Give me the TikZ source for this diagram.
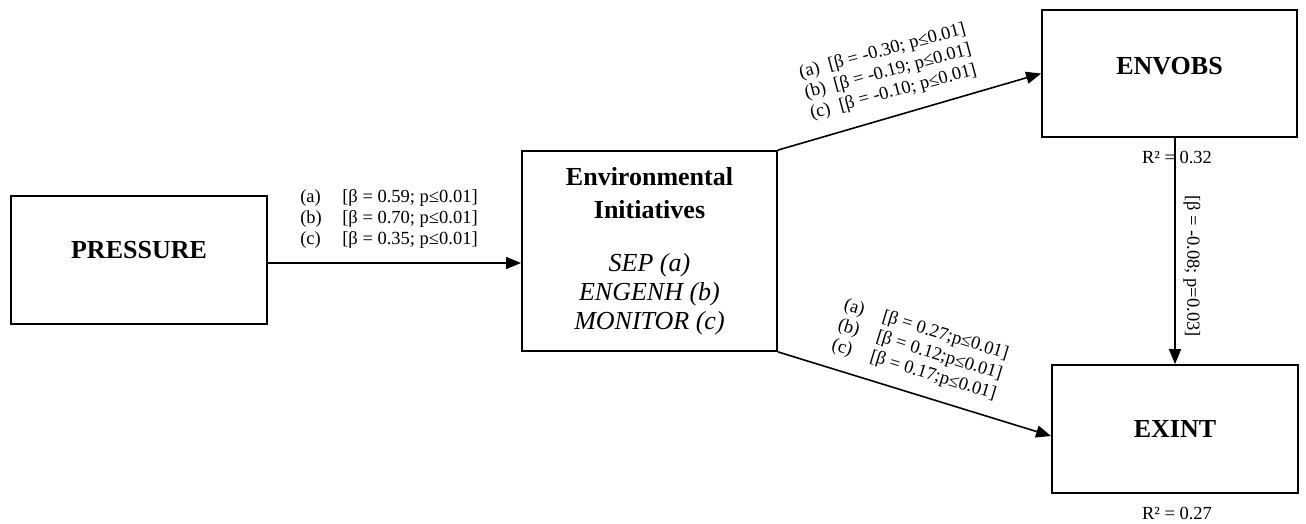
\documentclass[tikz,border=0pt]{standalone}
\usepackage{fontspec}
\setmainfont{Liberation Serif}
\usetikzlibrary{arrows.meta}

\begin{document}
\begin{tikzpicture}[x=1pt, y=-1pt,
	box/.style={draw, line width=1.8pt, inner sep=0pt, font=\fontsize{26}{30}\selectfont\bfseries},
	path/.style={line width=1.6pt, -{Triangle[length=15pt, width=12pt]}},
	coef/.style={inner sep=0pt, align=left, font=\fontsize{18.5}{21}\selectfont}]
	\useasboundingbox (0,0) rectangle (1306,524);
	\node[box, minimum width=256, minimum height=128, text depth=20pt] (pressure) at (139,260) {PRESSURE};
	\node[box, minimum width=255, minimum height=200, align=center] (envinit) at (649.5,251)
		{Environmental\\[3pt]Initiatives\\[23pt]{\mdseries\itshape SEP (a)}\\[-1pt]{\mdseries\itshape ENGENH (b)}\\[-1pt]{\mdseries\itshape MONITOR (c)}};
	\node[box, minimum width=255, minimum height=127, text depth=16pt] (envobs) at (1169.5,73.5) {ENVOBS};
	\node[box, minimum width=246, minimum height=128] (exint) at (1175,429) {EXINT};

	% coefficients
	\node[coef] (coefpress) at (389,219)
		{\makebox[42pt][l]{(a)}[β = 0.59; p≤0.01]\\\makebox[42pt][l]{(b)}[β = 0.70; p≤0.01]\\\makebox[42pt][l]{(c)}[β = 0.35; p≤0.01]};
	\node[coef, rotate=15] (coefobs) at (888,72)
		{\makebox[30pt][l]{(a)}[β = -0.30; p≤0.01]\\\makebox[30pt][l]{(b)}[β = -0.19; p≤0.01]\\\makebox[30pt][l]{(c)}[β = -0.10; p≤0.01]};
	\node[coef, rotate=-17] (coefint) at (920,350)
		{\makebox[40pt][l]{(a)}[β = 0.27;p≤0.01]\\\makebox[40pt][l]{(b)}[β = 0.12;p≤0.01]\\\makebox[40pt][l]{(c)}[β = 0.17;p≤0.01]};
	\node[coef, rotate=-90] (coefpath) at (1192,266) {[β = -0.08; p=0.03]};
	\node[coef] (rsqobs) at (1177,157) {R² = 0.32};
	\node[coef] (rsqint) at (1177,513) {R² = 0.27};

	\draw[path] ([yshift=-3pt]pressure.east) coordinate (ptail) -- (ptail -| envinit.west);
	\draw[path] (envinit.north east) -- (envobs.west);
	\draw[path] (envinit.south east) -- ([yshift=-7pt]exint.west);
	\draw[path] (envobs.south -| exint.north) -- (exint.north);
\end{tikzpicture}
\end{document}
